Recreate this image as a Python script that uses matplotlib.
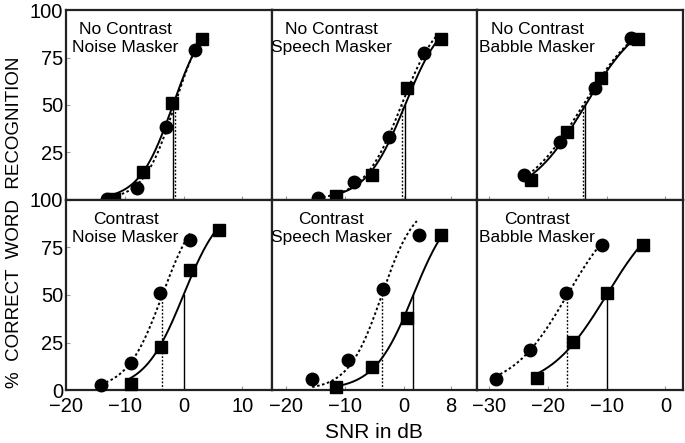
import numpy as np
import matplotlib.pyplot as plt

plt.rcParams['font.family'] = ['Liberation Sans', 'DejaVu Sans']

# panel labels (row-major: top = no contrast, bottom = contrast)
titles = ["No Contrast\nNoise Masker", "No Contrast\nSpeech Masker", "No Contrast\nBabble Masker",
          "Contrast\nNoise Masker", "Contrast\nSpeech Masker", "Contrast\nBabble Masker"]

# circles (dotted fit)
circle_snr = [[-13.0, -7.9, -3.0, 2.0],
              [-14.6, -8.5, -2.6, 3.4],
              [-24.0, -18.0, -12.0, -5.8],
              [-14.0, -9.0, -4.0, 1.1],
              [-15.6, -9.5, -3.5, 2.6],
              [-28.9, -23.0, -16.9, -10.7]]
circle_pct = [[0.5, 6.5, 38.6, 79.2],
              [1.2, 9.7, 33.3, 77.4],
              [13.2, 30.7, 58.9, 85.3],
              [2.6, 14.0, 51.0, 79.0],
              [5.6, 16.0, 53.2, 81.5],
              [5.6, 20.9, 51.0, 76.4]]

# squares (solid fit)
square_snr = [[-11.9, -6.9, -1.9, 3.2],
              [-11.6, -5.5, 0.5, 6.4],
              [-22.8, -16.8, -10.9, -4.7],
              [-9.0, -3.9, 1.1, 6.1],
              [-11.6, -5.5, 0.5, 6.4],
              [-21.9, -15.8, -9.9, -3.8]]
square_pct = [[0.5, 14.5, 51.0, 84.8],
              [2.1, 13.2, 59.1, 85.0],
              [10.6, 35.6, 64.2, 84.7],
              [3.1, 22.7, 63.4, 84.3],
              [1.7, 11.9, 38.0, 81.7],
              [6.1, 25.3, 51.0, 76.4]]

# fitted psychometric functions: 50% point (SRT), slope, x-range
circle_srt = [-1.5, -0.4, -14.0, -3.6, -3.75, -16.7]
circle_slope = [0.38, 0.31, 0.20, 0.33, 0.35, 0.21]
circle_span = [(-13.0, 2.0), (-14.6, 5.5), (-24.0, -5.8), (-14.0, 1.1), (-15.6, 2.2), (-28.9, -10.7)]
square_srt = [-1.8, 0.2, -13.6, 0.0, 1.6, -10.0]
square_slope = [0.345, 0.30, 0.205, 0.30, 0.30, 0.20]
square_span = [(-11.9, 3.2), (-11.6, 6.4), (-22.8, -4.7), (-9.0, 6.1), (-11.6, 6.4), (-21.9, -3.8)]

xlims = [(-20, 15), (-22.5, 12.5), (-32, 3)]
xticks = [[-20, -10, 0, 10], [-20, -10, 0, 8], [-30, -20, -10, 0]]
yticks = [0, 25, 50, 75, 100]

dots = (0, (1.3, 1.3))

fig = plt.figure(figsize=(6.85, 4.43), dpi=100)
gs = fig.add_gridspec(2, 3, left=66/685, right=683/685, bottom=53/443, top=433/443,
                      wspace=0, hspace=0)

for i in range(6):
    r, c = divmod(i, 3)
    ax = fig.add_subplot(gs[r, c])
    ax.set_xlim(xlims[c])
    ax.set_ylim(0, 100)

    # fitted curves + threshold lines
    for srt, k, span, ls in [(circle_srt[i], circle_slope[i], circle_span[i], dots),
                             (square_srt[i], square_slope[i], square_span[i], '-')]:
        xs = np.linspace(span[0], span[1], 200)
        ax.plot(xs, 100 / (1 + np.exp(-k * (xs - srt))), color='black', lw=1.4, ls=ls)
        ax.plot([srt, srt], [0, 50], color='black', lw=1.0, ls=ls)

    ax.plot(circle_snr[i], circle_pct[i], 'o', color='black', ms=9, clip_on=False, zorder=5)
    ax.plot(square_snr[i], square_pct[i], 's', color='black', ms=8, clip_on=False, zorder=5)

    ax.text(0.29, 0.85, titles[i], transform=ax.transAxes, ha='center', va='center',
            fontsize=12.5, linespacing=1.3)

    for s in ax.spines.values():
        s.set_linewidth(1.6)
        s.set_color('#222222')

    ax.set_xticks(xticks[c])
    ax.tick_params(axis='x', direction='in', length=3, width=0.8, color='#999999',
                   labelsize=14.5, pad=5, labelbottom=(r == 1))
    ax.set_yticks(yticks)
    if c == 0:
        ax.set_yticklabels(['0' if r == 1 else '', '25', '50', '75', '100'])
        ax.tick_params(axis='y', direction='in', length=3, width=0.8, color='#999999',
                       labelsize=14.5, pad=2)
    else:
        ax.tick_params(axis='y', length=0, labelleft=False)

fig.text(15/685, 1 - 222/443, '%  CORRECT  WORD  RECOGNITION', rotation=90,
         ha='center', va='center', fontsize=13.5)
fig.text(374/685, 1 - 432/443, 'SNR in dB', ha='center', va='center', fontsize=15)

fig.savefig('out.png', dpi=100)
